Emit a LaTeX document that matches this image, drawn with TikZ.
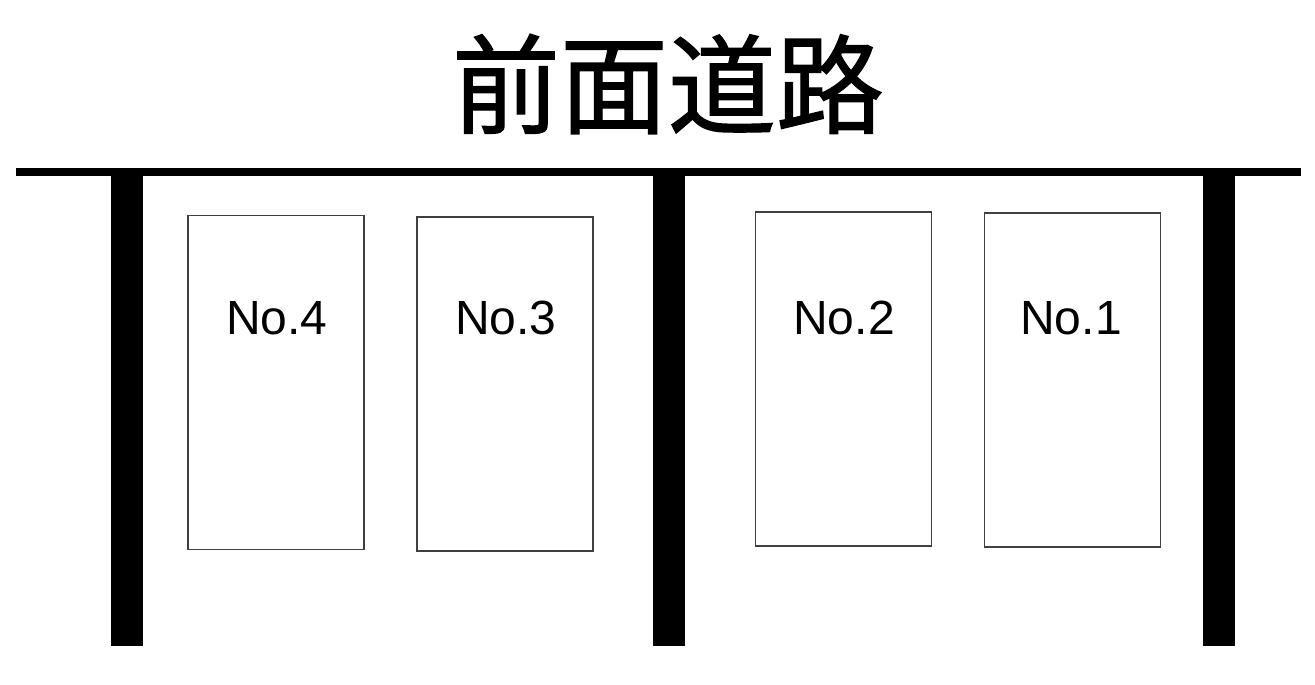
\documentclass[tikz,border=0pt]{standalone}
\usepackage{fontspec}
\setmainfont{Liberation Sans}
\newfontfamily\cjk[FakeBold=1.2]{Noto Sans CJK JP}
\definecolor{lotline}{gray}{0.25}
\tikzset{
	lot/.style={draw=lotline, line width=1.6pt, minimum width=176pt, minimum height=334pt, inner sep=0pt},
	lotlabel/.style={font=\fontsize{48}{48}\selectfont},
	wall/.style={fill=black, draw=none, minimum width=32pt, minimum height=478pt, inner sep=0pt}
}
\begin{document}
\begin{tikzpicture}[x=1pt, y=-1pt]
	\useasboundingbox (0,0) rectangle (1315,685);
	\node [font=\cjk\fontsize{108}{108}\selectfont] (title) at (668,84) {前面道路};
	\coordinate (roadL) at (16,172);
	\coordinate (roadR) at (1301,172);
	\draw [line width=8pt] (roadL) -- (roadR);
	\node [wall] (wallL) at (127,406.5) {};
	\node [wall] (wallM) at (669,406.5) {};
	\node [wall] (wallR) at (1219,406.5) {};
	\node [lot] (no4) at (276,382.5) {};
	\node [lot] (no3) at (505,384) {};
	\node [lot] (no2) at (843.5,379) {};
	\node [lot] (no1) at (1072.5,380) {};
	\node [lotlabel] (label4) at (277,318) {No.4};
	\node [lotlabel] (label3) at (506,318) {No.3};
	\node [lotlabel] (label2) at (844,318) {No.2};
	\node [lotlabel] (label1) at (1071,318) {No.1};
\end{tikzpicture}
\end{document}
